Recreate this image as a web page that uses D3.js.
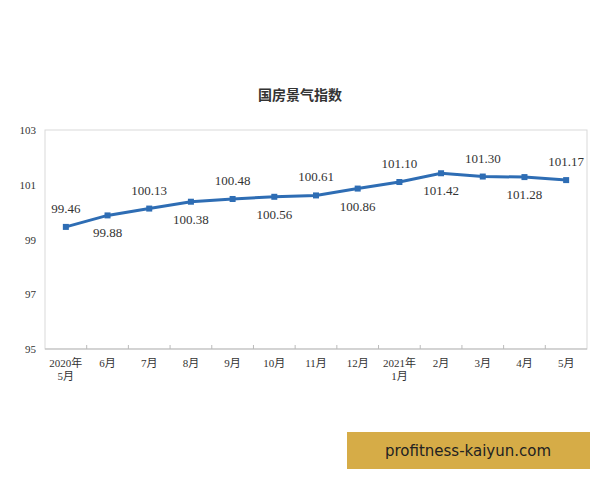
<!DOCTYPE html>
<meta charset="utf-8">
<style>
body { margin: 0; background: #fff; }
svg text { font-family: "Liberation Serif", "Noto Sans CJK SC", serif; fill: #333; }
</style>
<svg width="600" height="480"></svg>
<script src="https://d3js.org/d3.v7.min.js"></script>
<script>
var months = ["2020年|5月", "6月", "7月", "8月", "9月", "10月", "11月", "12月", "2021年|1月", "2月", "3月", "4月", "5月"];
var values = [99.46, 99.88, 100.13, 100.38, 100.48, 100.56, 100.61, 100.86, 101.10, 101.42, 101.30, 101.28, 101.17];
var yTicks = [95, 97, 99, 101, 103];

var svg = d3.select("svg");
var plotLeft = 45, plotRight = 587, plotTop = 130, plotBottom = 349;

var x = d3.scaleBand().domain(months).range([plotLeft, plotRight]);
var y = d3.scaleLinear().domain([95, 103]).range([plotBottom, plotTop]);

svg.append("text").attr("x", 300).attr("y", 100).attr("text-anchor", "middle")
  .style("font-family", "'Noto Sans CJK SC', sans-serif").style("font-weight", "bold")
  .style("font-size", "14px").text("国房景气指数");

// plot frame
svg.append("rect").attr("x", plotLeft).attr("y", plotTop).attr("width", plotRight - plotLeft).attr("height", plotBottom - plotTop)
  .attr("fill", "none").attr("stroke", "#d9d9d9");

// y axis labels
svg.selectAll(".yt").data(yTicks).enter().append("text")
  .attr("x", 36).attr("y", function(d) { return y(d) + 4; })
  .attr("text-anchor", "end").style("font-size", "11px").text(function(d) { return d; });

// x axis
svg.append("line").attr("x1", plotLeft).attr("x2", plotRight).attr("y1", plotBottom).attr("y2", plotBottom).attr("stroke", "#bbb");
svg.selectAll(".xt").data(months.slice(1)).enter().append("line")
  .attr("x1", function(d) { return x(d); }).attr("x2", function(d) { return x(d); })
  .attr("y1", plotBottom).attr("y2", plotBottom - 4).attr("stroke", "#bbb");
months.forEach(function(m) {
  var parts = m.split("|");
  var t = svg.append("text").attr("x", x(m) + x.bandwidth() / 2).attr("y", plotBottom + 18)
    .attr("text-anchor", "middle").style("font-size", "11px");
  parts.forEach(function(p, i) {
    t.append("tspan").attr("x", x(m) + x.bandwidth() / 2).attr("dy", i ? 13 : 0).text(p);
  });
});

var cx = function(d, i) { return x(months[i]) + x.bandwidth() / 2; };

svg.append("path").datum(values)
  .attr("d", d3.line().x(cx).y(function(d) { return y(d); }))
  .attr("fill", "none").attr("stroke", "#2e6db4").attr("stroke-width", 3);

svg.selectAll(".pt").data(values).enter().append("rect")
  .attr("x", function(d, i) { return cx(d, i) - 3; }).attr("y", function(d) { return y(d) - 3; })
  .attr("width", 6).attr("height", 6).attr("fill", "#2e6db4");

svg.selectAll(".lbl").data(values).enter().append("text")
  .attr("x", cx)
  .attr("y", function(d, i) { return y(d) + (i % 2 === 0 ? -14 : 22); })
  .attr("text-anchor", "middle").style("font-size", "13px")
  .text(function(d) { return d.toFixed(2); });

// watermark
svg.append("rect").attr("x", 347).attr("y", 432).attr("width", 243).attr("height", 37).attr("fill", "#d6ac47");
svg.append("text").attr("x", 468).attr("y", 456).attr("text-anchor", "middle")
  .style("font-family", "'DejaVu Sans', sans-serif").style("font-size", "15px").style("fill", "#222")
  .text("profitness-kaiyun.com");
</script>
